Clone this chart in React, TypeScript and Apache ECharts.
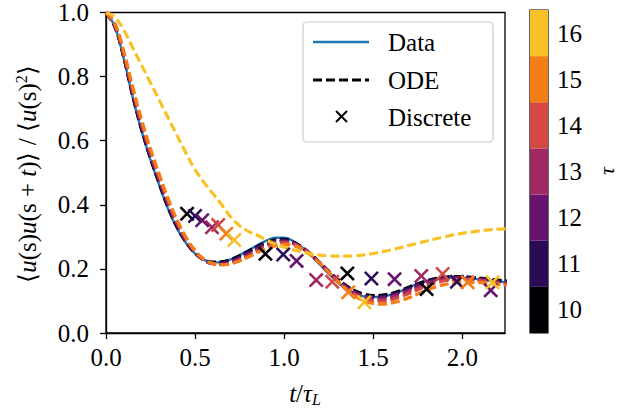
import React, { useEffect, useRef } from 'react';
import * as echarts from 'echarts';

const T = [0, 0.05, 0.1, 0.15, 0.2, 0.25, 0.3, 0.35, 0.4, 0.45, 0.5, 0.55, 0.6, 0.65, 0.7, 0.75, 0.8, 0.85, 0.9, 0.95, 1.0, 1.05, 1.1, 1.15, 1.2, 1.25, 1.3, 1.35, 1.4, 1.45, 1.5, 1.55, 1.6, 1.65, 1.7, 1.75, 1.8, 1.85, 1.9, 1.95, 2.0, 2.05, 2.1, 2.15, 2.2, 2.25];

const DATA = [1.0, 0.955, 0.855, 0.735, 0.63, 0.54, 0.46, 0.385, 0.325, 0.28, 0.248, 0.228, 0.22, 0.222, 0.23, 0.243, 0.258, 0.274, 0.288, 0.297, 0.297, 0.287, 0.268, 0.243, 0.214, 0.185, 0.158, 0.137, 0.122, 0.114, 0.112, 0.114, 0.12, 0.13, 0.142, 0.153, 0.162, 0.168, 0.172, 0.173, 0.172, 0.17, 0.167, 0.164, 0.161, 0.158];

const ODE_10 = [1.0, 0.955, 0.86, 0.74, 0.635, 0.545, 0.465, 0.39, 0.33, 0.283, 0.25, 0.23, 0.221, 0.222, 0.229, 0.241, 0.255, 0.27, 0.283, 0.291, 0.292, 0.284, 0.268, 0.246, 0.22, 0.193, 0.168, 0.147, 0.131, 0.121, 0.117, 0.118, 0.123, 0.132, 0.143, 0.154, 0.163, 0.17, 0.174, 0.176, 0.176, 0.174, 0.171, 0.168, 0.165, 0.162];
const ODE_11 = [1.0, 0.957, 0.862, 0.745, 0.64, 0.55, 0.47, 0.395, 0.333, 0.285, 0.25, 0.228, 0.219, 0.219, 0.226, 0.238, 0.252, 0.267, 0.28, 0.288, 0.29, 0.283, 0.267, 0.245, 0.219, 0.192, 0.166, 0.145, 0.128, 0.118, 0.113, 0.114, 0.119, 0.128, 0.139, 0.15, 0.16, 0.167, 0.172, 0.174, 0.174, 0.172, 0.169, 0.166, 0.162, 0.159];
const ODE_12 = [1.0, 0.958, 0.865, 0.75, 0.645, 0.555, 0.475, 0.4, 0.337, 0.287, 0.25, 0.227, 0.217, 0.216, 0.222, 0.234, 0.248, 0.263, 0.276, 0.285, 0.287, 0.281, 0.266, 0.244, 0.218, 0.19, 0.164, 0.142, 0.125, 0.114, 0.109, 0.11, 0.115, 0.124, 0.135, 0.147, 0.157, 0.165, 0.17, 0.172, 0.172, 0.17, 0.167, 0.163, 0.159, 0.156];
const ODE_13 = [1.0, 0.96, 0.868, 0.755, 0.65, 0.56, 0.48, 0.405, 0.341, 0.29, 0.252, 0.227, 0.216, 0.214, 0.219, 0.23, 0.244, 0.259, 0.272, 0.281, 0.284, 0.279, 0.265, 0.244, 0.218, 0.19, 0.163, 0.14, 0.122, 0.111, 0.105, 0.105, 0.11, 0.119, 0.13, 0.142, 0.153, 0.161, 0.167, 0.17, 0.17, 0.168, 0.165, 0.161, 0.157, 0.153];
const ODE_14 = [1.0, 0.962, 0.872, 0.76, 0.657, 0.567, 0.486, 0.41, 0.346, 0.294, 0.255, 0.228, 0.216, 0.213, 0.217, 0.227, 0.24, 0.255, 0.268, 0.277, 0.281, 0.277, 0.265, 0.244, 0.218, 0.19, 0.162, 0.138, 0.119, 0.106, 0.1, 0.099, 0.103, 0.112, 0.123, 0.135, 0.147, 0.156, 0.163, 0.166, 0.167, 0.166, 0.163, 0.159, 0.155, 0.151];
const ODE_15 = [1.0, 0.965, 0.878, 0.768, 0.665, 0.575, 0.494, 0.418, 0.352, 0.298, 0.258, 0.23, 0.217, 0.213, 0.216, 0.225, 0.237, 0.251, 0.263, 0.272, 0.276, 0.273, 0.262, 0.243, 0.218, 0.19, 0.161, 0.135, 0.114, 0.1, 0.092, 0.09, 0.093, 0.1, 0.11, 0.122, 0.134, 0.144, 0.151, 0.156, 0.158, 0.158, 0.157, 0.155, 0.152, 0.149];
const ODE_16 = [1.0, 0.985, 0.945, 0.89, 0.835, 0.78, 0.725, 0.67, 0.615, 0.56, 0.51, 0.47, 0.435, 0.4, 0.362, 0.335, 0.317, 0.305, 0.29, 0.278, 0.268, 0.26, 0.253, 0.247, 0.243, 0.241, 0.24, 0.24, 0.241, 0.244, 0.248, 0.253, 0.259, 0.266, 0.273, 0.28, 0.287, 0.294, 0.3, 0.306, 0.311, 0.315, 0.319, 0.322, 0.324, 0.325];

const DISC_T_10 = [0.455, 0.895, 1.355, 1.8];
const DISC_V_10 = [0.372, 0.247, 0.186, 0.137];
const DISC_T_11 = [0.5, 0.995, 1.49, 1.97];
const DISC_V_11 = [0.365, 0.245, 0.17, 0.16];
const DISC_T_12 = [0.54, 1.07, 1.62, 2.16];
const DISC_V_12 = [0.352, 0.225, 0.168, 0.133];
const DISC_T_13 = [0.595, 1.18, 1.77];
const DISC_V_13 = [0.33, 0.165, 0.178];
const DISC_T_14 = [0.63, 1.27, 1.89];
const DISC_V_14 = [0.337, 0.16, 0.184];
const DISC_T_15 = [0.675, 1.36, 2.03];
const DISC_V_15 = [0.31, 0.127, 0.158];
const DISC_T_16 = [0.72, 1.45, 2.17];
const DISC_V_16 = [0.29, 0.096, 0.158];

const TAUS = [10, 11, 12, 13, 14, 15, 16];
const TAU_COLORS = ['#000004', '#2a0b56', '#65156e', '#9f2a63', '#d44842', '#f57d15', '#fac127'];
const ODES = [ODE_10, ODE_11, ODE_12, ODE_13, ODE_14, ODE_15, ODE_16];
const DISC_T = [DISC_T_10, DISC_T_11, DISC_T_12, DISC_T_13, DISC_T_14, DISC_T_15, DISC_T_16];
const DISC_V = [DISC_V_10, DISC_V_11, DISC_V_12, DISC_V_13, DISC_V_14, DISC_V_15, DISC_V_16];

const X_TICKS = [0, 0.5, 1, 1.5, 2];
const Y_TICKS = [0, 0.2, 0.4, 0.6, 0.8, 1];

const FONT = 'Liberation Serif';
const FS = 25;
const CROSS = 'path://M0,1.2L1.2,0L5,3.8L8.8,0L10,1.2L6.2,5L10,8.8L8.8,10L5,6.2L1.2,10L0,8.8L3.8,5Z';

export default function App() {
  const ref = useRef<HTMLDivElement>(null);
  useEffect(() => {
    if (!ref.current) return;
    const chart = echarts.init(ref.current, null, { renderer: 'svg' });
    const zip = (xs: number[], ys: number[]) => xs.map((x, i) => [x, ys[i]]);
    const series: any[] = [];
    series.push({
      type: 'line', name: 'Data', data: zip(T, DATA), smooth: 0.4, symbol: 'none',
      lineStyle: { color: '#1f77b4', width: 2.4 }, z: 2,
    });
    ODES.forEach((o, i) => {
      series.push({
        type: 'line', name: 'ODE ' + TAUS[i], data: zip(T, o), smooth: 0.4, symbol: 'none',
        lineStyle: { color: TAU_COLORS[i], width: 3.2, type: [9, 4] }, z: 3 + i,
      });
    });
    DISC_T.forEach((ts, i) => {
      series.push({
        type: 'scatter', name: 'Discrete ' + TAUS[i], data: zip(ts, DISC_V[i]),
        symbol: CROSS, symbolSize: 15, itemStyle: { color: TAU_COLORS[i], opacity: 1 }, z: 20 + i,
      });
    });
    series.push({
      type: 'custom', xAxisIndex: 1, yAxisIndex: 1,
      data: TAUS.map((t, i) => [0, t, i]),
      renderItem: (params: any, api: any) => {
        const tau = api.value(1);
        const p0 = api.coord([0, tau - 0.5]);
        const p1 = api.coord([1, tau + 0.5]);
        return {
          type: 'rect',
          shape: { x: p0[0], y: p1[1], width: p1[0] - p0[0], height: p0[1] - p1[1] },
          style: { fill: TAU_COLORS[api.value(2)] },
        };
      },
    });

    const axisLine = { show: true, lineStyle: { color: '#000', width: 1.3 } };
    const axisTick = { show: true, inside: false, length: 6, lineStyle: { color: '#000', width: 1.3 } };
    const labelStyle = { color: '#000', fontFamily: FONT, fontSize: FS };

    chart.setOption({
      animation: false,
      backgroundColor: '#fff',
      grid: [
        { left: 106, top: 10, width: 399, height: 323, show: true, borderColor: '#000', borderWidth: 1.3, backgroundColor: 'transparent' },
        { left: 530, top: 10, width: 18, height: 323, show: true, borderColor: '#000', borderWidth: 1.2, backgroundColor: 'transparent' },
      ],
      xAxis: [
        {
          type: 'value', gridIndex: 0, min: 0, max: 2.24, interval: 0.5,
          axisLine, axisTick: { ...axisTick, customValues: X_TICKS }, splitLine: { show: false },
          axisLabel: { ...labelStyle, margin: 12, customValues: X_TICKS, formatter: (v: number) => v.toFixed(1) },
        },
        { type: 'value', gridIndex: 1, min: 0, max: 1, show: false },
      ],
      yAxis: [
        {
          type: 'value', gridIndex: 0, min: 0, max: 1, interval: 0.2,
          axisLine, axisTick: { ...axisTick, customValues: Y_TICKS }, splitLine: { show: false },
          axisLabel: { ...labelStyle, margin: 17, customValues: Y_TICKS, formatter: (v: number) => v.toFixed(1) },
        },
        {
          type: 'value', gridIndex: 1, min: 9.5, max: 16.5, position: 'right',
          axisLine: { show: false }, splitLine: { show: false },
          axisTick: { ...axisTick, length: 5, customValues: TAUS },
          axisLabel: { ...labelStyle, margin: 9, customValues: TAUS, formatter: (v: number) => String(v) },
        },
      ],
      series,
      graphic: [
        {
          type: 'text', x: 27, y: 174, rotation: Math.PI / 2,
          style: {
            text: '⟨{i|u}(s){i|u}(s + {i|t})⟩ / ⟨{i|u}(s){s|2}⟩',
            fontFamily: FONT, fontSize: FS, fill: '#000', align: 'center', verticalAlign: 'middle',
            rich: {
              i: { fontStyle: 'italic', fontFamily: FONT, fontSize: FS },
              s: { fontFamily: FONT, fontSize: 16, verticalAlign: 'top', padding: [0, 0, 11, 0] },
            },
          },
        },
        {
          type: 'text', x: 305, y: 393,
          style: {
            text: '{i|t}/{i|τ}{sub|L}',
            fontFamily: FONT, fontSize: FS, fill: '#000', align: 'center', verticalAlign: 'middle',
            rich: {
              i: { fontStyle: 'italic', fontFamily: FONT, fontSize: FS },
              sub: { fontStyle: 'italic', fontFamily: FONT, fontSize: 16, padding: [12, 0, 0, 0] },
            },
          },
        },
        {
          type: 'text', x: 606, y: 171, rotation: Math.PI / 2,
          style: { text: 'τ', fontFamily: FONT, fontSize: 22, fontStyle: 'italic', fill: '#000', align: 'center', verticalAlign: 'middle' },
        },
        {
          type: 'group', z: 100,
          children: [
            { type: 'rect', shape: { x: 303, y: 22, width: 190, height: 120, r: 4 }, style: { fill: 'rgba(255,255,255,0.8)', stroke: '#cccccc', lineWidth: 1.2 } },
            { type: 'line', shape: { x1: 313, y1: 42, x2: 369, y2: 42 }, style: { stroke: '#1f77b4', lineWidth: 2.4 } },
            { type: 'line', shape: { x1: 313, y1: 80, x2: 369, y2: 80 }, style: { stroke: '#000', lineWidth: 3.2, lineDash: [9, 4] } },
            { type: 'line', shape: { x1: 336, y1: 111, x2: 347, y2: 122 }, style: { stroke: '#000', lineWidth: 2 } },
            { type: 'line', shape: { x1: 347, y1: 111, x2: 336, y2: 122 }, style: { stroke: '#000', lineWidth: 2 } },
            { type: 'text', x: 388, y: 42, style: { text: 'Data', fontFamily: FONT, fontSize: FS, fill: '#000', verticalAlign: 'middle' } },
            { type: 'text', x: 388, y: 80, style: { text: 'ODE', fontFamily: FONT, fontSize: FS, fill: '#000', verticalAlign: 'middle' } },
            { type: 'text', x: 388, y: 117, style: { text: 'Discrete', fontFamily: FONT, fontSize: FS, fill: '#000', verticalAlign: 'middle' } },
          ],
        },
      ],
    });
    return () => chart.dispose();
  }, []);
  return <div ref={ref} style={{ position: 'fixed', left: 0, top: 0, width: 619, height: 414 }} />;
}
